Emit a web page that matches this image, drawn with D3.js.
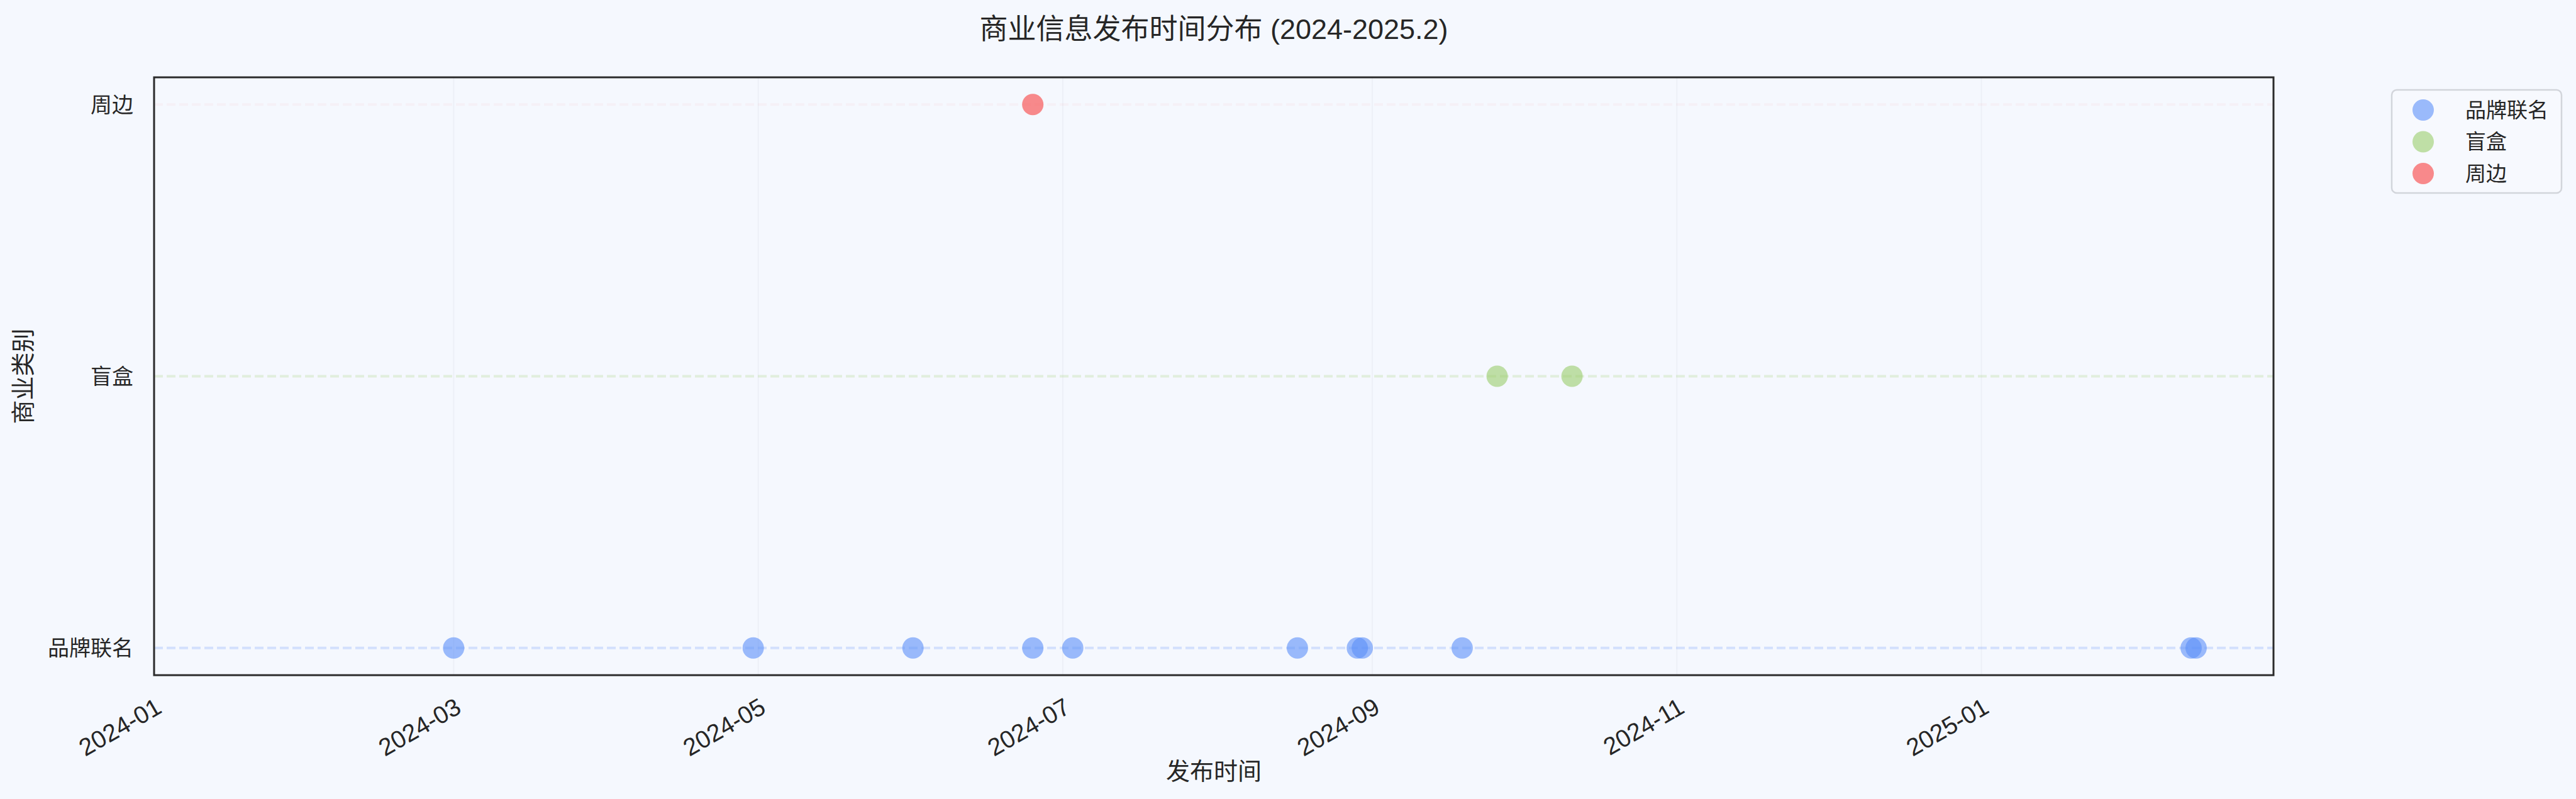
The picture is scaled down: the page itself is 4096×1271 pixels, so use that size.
<!DOCTYPE html>
<html>
<head>
<meta charset="utf-8">
<script src="https://cdn.jsdelivr.net/npm/d3@7"></script>
<style>
  html, body { margin: 0; padding: 0; background: #f5f8fe; }
  text { font-family: "Liberation Sans", "Noto Sans CJK SC", sans-serif; fill: #262626; }
</style>
</head>
<body>
<div id="chart"></div>
<script>
// 类别与日期
const categories = ["品牌联名", "盲盒", "周边"];
const colors = ["#5b8ff9", "#9acd6a", "#f85a5a"];
const brandDates = ["2024-03-01", "2024-04-30", "2024-06-01", "2024-06-25", "2024-07-03",
    "2024-08-17", "2024-08-29", "2024-08-30", "2024-09-19", "2025-02-12", "2025-02-13"];
const blindBoxDates = ["2024-09-26", "2024-10-11"];
const merchDates = ["2024-06-25"];
const tickLabels = ["2024-01", "2024-03", "2024-05", "2024-07", "2024-09", "2024-11", "2025-01"];

const seriesDates = [brandDates, blindBoxDates, merchDates];
const parse = d3.timeParse("%Y-%m-%d");
const data = [];
seriesDates.forEach((ds, i) => ds.forEach(d => data.push({ date: parse(d), cat: i })));

const width = 4096, height = 1271;
const margin = { top: 123, right: 481, bottom: 197, left: 245 };

const svg = d3.select("#chart")
    .append("svg")
    .attr("width", width)
    .attr("height", height);

svg.append("rect").attr("width", width).attr("height", height).attr("fill", "#f5f8fe");

const xScale = d3.scaleTime()
    .domain([parse("2024-01-01"), new Date(2025, 1, 28, 12)])
    .range([margin.left, width - margin.right]);

const yScale = d3.scaleLinear()
    .domain([-0.1, 2.1])
    .range([height - margin.bottom, margin.top]);

const tickDates = tickLabels.map(t => d3.timeParse("%Y-%m")(t));

// 网格
svg.append("g")
    .selectAll("line")
    .data(tickDates)
    .enter()
    .append("line")
    .attr("x1", d => xScale(d)).attr("x2", d => xScale(d))
    .attr("y1", margin.top).attr("y2", height - margin.bottom)
    .attr("stroke", "#edf0f7")
    .attr("stroke-width", 2);

// 类别虚线
svg.append("g")
    .selectAll("line")
    .data(categories)
    .enter()
    .append("line")
    .attr("x1", margin.left).attr("x2", width - margin.right)
    .attr("y1", (d, i) => yScale(i)).attr("y2", (d, i) => yScale(i))
    .attr("stroke", (d, i) => colors[i])
    .attr("stroke-opacity", (d, i) => i === 2 ? 0.05 : 0.22)
    .attr("stroke-width", 4)
    .attr("stroke-dasharray", "14 6");

// 散点
svg.append("g")
    .selectAll("circle")
    .data(data)
    .enter()
    .append("circle")
    .attr("cx", d => xScale(d.date))
    .attr("cy", d => yScale(d.cat))
    .attr("r", 17)
    .attr("fill", d => colors[d.cat])
    .attr("fill-opacity", d => d.cat === 2 ? 0.7 : 0.6);

// 边框
svg.append("rect")
    .attr("x", margin.left)
    .attr("y", margin.top)
    .attr("width", width - margin.left - margin.right)
    .attr("height", height - margin.top - margin.bottom)
    .attr("fill", "none")
    .attr("stroke", "#2b2b2b")
    .attr("stroke-width", 3);

// x轴
const xAxis = svg.append("g")
    .attr("transform", `translate(0,${height - margin.bottom})`)
    .call(d3.axisBottom(xScale).tickValues(tickDates).tickFormat(d3.timeFormat("%Y-%m")).tickSize(0));
xAxis.select(".domain").remove();
xAxis.selectAll("text")
    .attr("transform", "translate(0,34) rotate(-30)")
    .attr("x", 0).attr("y", 0).attr("dy", "0.72em")
    .style("text-anchor", "end")
    .style("font-size", "39px");

// y轴
const yAxis = svg.append("g")
    .attr("transform", `translate(${margin.left},0)`)
    .call(d3.axisLeft(yScale).tickValues([0, 1, 2]).tickFormat(i => categories[i]).tickSize(0).tickPadding(33));
yAxis.select(".domain").remove();
yAxis.selectAll("text")
    .attr("dy", "0.35em")
    .style("font-size", "34px");

// 轴标题
svg.append("text")
    .attr("x", (margin.left + width - margin.right) / 2)
    .attr("y", 1240)
    .attr("text-anchor", "middle")
    .style("font-size", "38px")
    .text("发布时间");

svg.append("text")
    .attr("transform", "rotate(-90)")
    .attr("x", -(margin.top + height - margin.bottom) / 2)
    .attr("y", 50)
    .attr("text-anchor", "middle")
    .style("font-size", "38px")
    .text("商业类别");

// 标题
svg.append("text")
    .attr("x", (margin.left + width - margin.right) / 2)
    .attr("y", 62)
    .attr("text-anchor", "middle")
    .style("font-size", "45px")
    .text("商业信息发布时间分布 (2024-2025.2)");

// 图例
const legend = svg.append("g").attr("transform", "translate(3803,143)");
legend.append("rect")
    .attr("width", 270).attr("height", 164)
    .attr("rx", 8)
    .attr("fill", "#f7f9fe")
    .attr("stroke", "#d2d5db")
    .attr("stroke-width", 2.5);
categories.forEach((c, i) => {
    const row = legend.append("g").attr("transform", `translate(0,${32 + i * 50.5})`);
    row.append("circle").attr("cx", 50).attr("r", 17)
        .attr("fill", colors[i]).attr("fill-opacity", i === 2 ? 0.7 : 0.6);
    row.append("text").attr("x", 117).attr("dy", "0.36em")
        .style("font-size", "33px").text(c);
});
</script>
</body>
</html>
